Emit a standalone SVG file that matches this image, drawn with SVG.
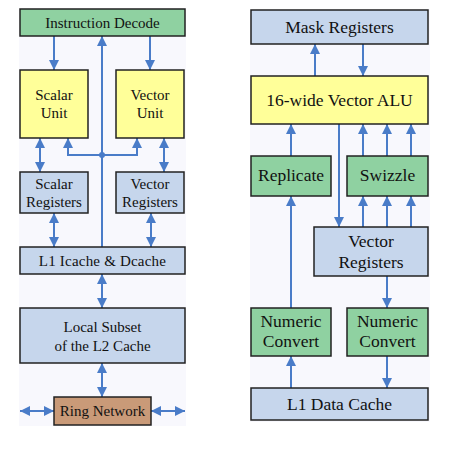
<svg xmlns="http://www.w3.org/2000/svg" width="450" height="450" viewBox="0 0 450 450">
<defs>
<marker id="ah" viewBox="0 0 10 10" refX="10" refY="5" markerWidth="10" markerHeight="10" markerUnits="userSpaceOnUse" orient="auto-start-reverse">
<path d="M0,0 L10,5 L0,10 Z" fill="#4a7cc8"/>
</marker>
<style>
.bx{stroke:#222;stroke-width:1.5}
.g{fill:#8fd1a1}.b{fill:#c6d6ec}.y{fill:#ffff99}.r{fill:#c99a78}
.t{font-family:'Liberation Serif','Times New Roman',serif;font-size:15px;fill:#111;text-anchor:middle}
.t2{font-family:'Liberation Serif','Times New Roman',serif;font-size:17.5px;fill:#111;text-anchor:middle}
.c{stroke:#4a7cc8;stroke-width:2;fill:none}
.a{marker-end:url(#ah)}
.d{marker-start:url(#ah);marker-end:url(#ah)}
</style>
</defs>
<rect width="450" height="450" fill="#fff"/>
<rect x="19" y="8" width="167" height="418" fill="#f8f8fd"/>
<rect x="250" y="9" width="180" height="413" fill="#f8f8fd"/>
<g id="connectors">
<line class="c a" x1="54" y1="36" x2="54" y2="70"/>
<line class="c a" x1="150" y1="36" x2="150" y2="70"/>
<line class="c a" x1="102" y1="247" x2="102" y2="36"/>
<polyline class="c a" points="102,155 68,155 68,138"/>
<polyline class="c a" points="102,155 137,155 137,138"/>
<circle cx="102" cy="155" r="3" fill="#4a7cc8"/>
<line class="c d" x1="40" y1="138" x2="40" y2="172"/>
<line class="c d" x1="164" y1="138" x2="164" y2="172"/>
<line class="c d" x1="54" y1="213" x2="54" y2="247"/>
<line class="c d" x1="151" y1="213" x2="151" y2="247"/>
<line class="c d" x1="102" y1="274" x2="102" y2="308"/>
<line class="c d" x1="102" y1="363" x2="102" y2="397"/>
<line class="c d" x1="20" y1="411" x2="54" y2="411"/>
<line class="c d" x1="151" y1="411" x2="185" y2="411"/>
<line class="c a" x1="315" y1="76" x2="315" y2="44"/>
<line class="c a" x1="363" y1="44" x2="363" y2="76"/>
<line class="c a" x1="291" y1="156" x2="291" y2="124"/>
<line class="c a" x1="363" y1="156" x2="363" y2="124"/>
<line class="c a" x1="387" y1="156" x2="387" y2="124"/>
<line class="c a" x1="411" y1="156" x2="411" y2="124"/>
<line class="c a" x1="339" y1="124" x2="339" y2="227"/>
<line class="c a" x1="363" y1="227" x2="363" y2="196"/>
<line class="c a" x1="387" y1="227" x2="387" y2="196"/>
<line class="c a" x1="411" y1="227" x2="411" y2="196"/>
<line class="c a" x1="291" y1="308" x2="291" y2="196"/>
<line class="c a" x1="387" y1="276" x2="387" y2="308"/>
<line class="c a" x1="291" y1="388" x2="291" y2="356"/>
<line class="c a" x1="387" y1="356" x2="387" y2="388"/>
</g>
<g id="instruction-decode"><rect class="bx g" x="20" y="9" width="165" height="27"/><text class="t" x="102.5" y="27.5">Instruction Decode</text></g>
<g id="scalar-unit"><rect class="bx y" x="20" y="70" width="68" height="68"/><text class="t" x="54" y="100">Scalar</text><text class="t" x="54" y="118">Unit</text></g>
<g id="vector-unit"><rect class="bx y" x="116" y="70" width="68" height="68"/><text class="t" x="150" y="100">Vector</text><text class="t" x="150" y="118">Unit</text></g>
<g id="scalar-registers"><rect class="bx b" x="20" y="172" width="68" height="41"/><text class="t" x="54" y="189">Scalar</text><text class="t" x="54" y="207">Registers</text></g>
<g id="vector-registers-l"><rect class="bx b" x="116" y="172" width="68" height="41"/><text class="t" x="150" y="189">Vector</text><text class="t" x="150" y="207">Registers</text></g>
<g id="l1-icache-dcache"><rect class="bx b" x="20" y="247" width="165" height="27"/><text class="t" x="102.5" y="265.5" letter-spacing="0.2">L1 Icache &amp; Dcache</text></g>
<g id="local-subset-l2"><rect class="bx b" x="20" y="308" width="165" height="55"/><text class="t" x="102.5" y="332">Local Subset</text><text class="t" x="102.5" y="351">of the L2 Cache</text></g>
<g id="ring-network"><rect class="bx r" x="54" y="397" width="97" height="28"/><text class="t" x="102.5" y="416">Ring Network</text></g>
<g id="mask-registers"><rect class="bx b" x="251" y="10" width="177" height="34"/><text class="t2" x="339.5" y="33">Mask Registers</text></g>
<g id="vector-alu"><rect class="bx y" x="251" y="76" width="177" height="48"/><text class="t2" x="339.5" y="106">16-wide Vector ALU</text></g>
<g id="replicate"><rect class="bx g" x="251" y="156" width="80" height="40"/><text class="t2" x="291" y="181">Replicate</text></g>
<g id="swizzle"><rect class="bx g" x="347" y="156" width="81" height="40"/><text class="t2" x="387.5" y="181">Swizzle</text></g>
<g id="vector-registers-r"><rect class="bx b" x="314" y="227" width="114" height="49"/><text class="t2" x="371" y="247">Vector</text><text class="t2" x="371" y="268">Registers</text></g>
<g id="numeric-convert-l"><rect class="bx g" x="251" y="308" width="80" height="48"/><text class="t2" x="291" y="327">Numeric</text><text class="t2" x="291" y="347">Convert</text></g>
<g id="numeric-convert-r"><rect class="bx g" x="347" y="308" width="81" height="48"/><text class="t2" x="387.5" y="327">Numeric</text><text class="t2" x="387.5" y="347">Convert</text></g>
<g id="l1-data-cache"><rect class="bx b" x="251" y="388" width="177" height="32"/><text class="t2" x="339.5" y="410">L1 Data Cache</text></g>
</svg>
